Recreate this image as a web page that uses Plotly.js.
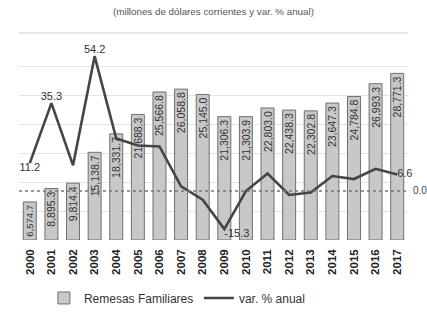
<!DOCTYPE html>
<html>
<head>
<meta charset="utf-8">
<script src="https://cdn.plot.ly/plotly-3.0.1.min.js"></script>
<style>html,body{margin:0;padding:0;background:#fff;}#chart{width:427px;height:314px;}</style>
</head>
<body>
<div id="chart"></div>
<script>
const years = ['2000','2001','2002','2003','2004','2005','2006','2007','2008','2009','2010','2011','2012','2013','2014','2015','2016','2017'];
const remesas = [6574.7, 8895.3, 9814.4, 15138.7, 18331.7, 21688.3, 25566.8, 26058.8, 25145.0, 21306.3, 21303.9, 22803.0, 22438.3, 22302.8, 23647.3, 24784.8, 26993.3, 28771.3];
const variacion = [11.2, 35.3, 10.3, 54.2, 21.1, 18.3, 17.9, 1.9, -3.5, -15.3, 0.0, 7.0, -1.6, -0.6, 6.0, 4.8, 8.9, 6.6];
const lineLabels = ['11.2','35.3','','54.2','','','','','','-15.3','','','','','','','','6.6'];
const lineLabelPos = ['bottom center','top center','top center','top center','top center','top center','top center','top center','top center','bottom right','top center','top center','top center','top center','top center','top center','top center','middle right'];

const font = '"Liberation Sans Narrow", "Liberation Sans", Arial, sans-serif';
// smaller text for the shortest bar so its label fits inside
const barTextSizes = remesas.map(v => v < 8000 ? 9.5 : 10.5);

const traces = [
  {
    type: 'bar', name: 'Remesas Familiares', x: years, y: remesas,
    marker: {color: '#c8c8c8', line: {color: '#707070', width: 1}},
    width: 0.6,
    texttemplate: '%{y:,.1f}', textposition: 'inside', insidetextanchor: 'end', textangle: -90,
    constraintext: 'none',
    textfont: {family: font, size: barTextSizes, color: '#333'},
    hoverinfo: 'skip'
  },
  {
    type: 'scatter', mode: 'lines+text', name: 'var. % anual', x: years, y: variacion, yaxis: 'y2',
    line: {color: '#454545', width: 2.6},
    text: lineLabels, textposition: lineLabelPos,
    textfont: {family: font, size: 11, color: '#333'},
    cliponaxis: false, hoverinfo: 'skip'
  }
];

const layout = {
  width: 427, height: 314,
  margin: {l: 19, r: 19, t: 33, b: 74, autoexpand: false},
  paper_bgcolor: '#fff', plot_bgcolor: '#fff',
  showlegend: true,
  title: {text: '(millones de dólares corrientes y var. % anual)', font: {family: font, size: 9.8, color: '#555'}, x: 0.5, xanchor: 'center', y: 0.962, yanchor: 'middle'},
  font: {family: font},
  bargap: 0.4,
  xaxis: {type: 'category', tickangle: -90, ticklabelstandoff: 6, tickfont: {family: font, size: 11.5, color: '#222', weight: 'bold'}, showgrid: false, zeroline: false, showline: false, ticks: '', range: [-0.5, 17.5]},
  yaxis: {range: [0, 35750], tickvals: [5000, 10000, 15000, 20000, 25000, 30000], showticklabels: false, showgrid: true, gridcolor: '#e4e4e4', gridwidth: 1, zeroline: false, showline: false},
  yaxis2: {overlaying: 'y', side: 'right', range: [-19.7, 63.5], showticklabels: false, showgrid: false, zeroline: false, showline: false},
  legend: {orientation: 'h', x: 0.064, xanchor: 'left', y: -0.28, yanchor: 'middle', font: {family: font, size: 12, color: '#333'}, entrywidth: 110, entrywidthmode: 'pixels', traceorder: 'normal'},
  shapes: [
    {type: 'line', xref: 'paper', yref: 'y2', x0: 0, x1: 1, y0: 0, y1: 0, line: {color: '#777', width: 1.5, dash: 'dot'}},
    {type: 'line', xref: 'paper', yref: 'paper', x0: 0, x1: 1, y0: 1, y1: 1, line: {color: '#e6e6e6', width: 2}}
  ],
  annotations: [
    {xref: 'paper', yref: 'y2', x: 1.008, y: 0, text: '0.0', showarrow: false, xanchor: 'left', yanchor: 'middle', font: {family: font, size: 10, color: '#444'}}
  ]
};

Plotly.newPlot('chart', traces, layout, {displayModeBar: false, staticPlot: true});
</script>
</body>
</html>
